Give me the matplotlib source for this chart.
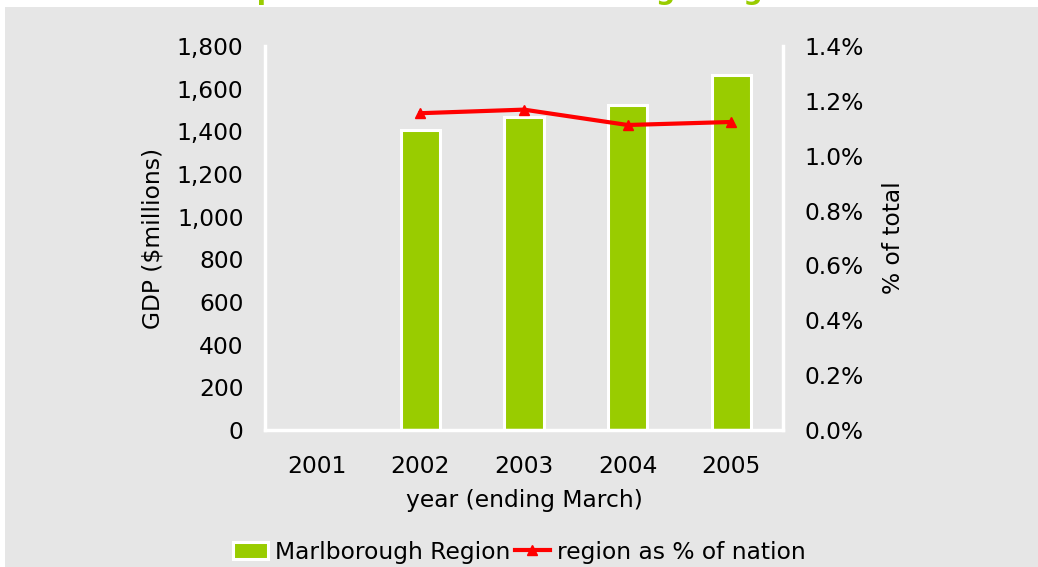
import matplotlib
matplotlib.use("Agg")
import matplotlib.pyplot as plt
from matplotlib.patches import Rectangle
from matplotlib.ticker import FuncFormatter, MultipleLocator

years = ["2001", "2002", "2003", "2004", "2005"]
gdp = [0, 1405, 1465, 1525, 1662]
pct = [None, 1.155, 1.168, 1.112, 1.123]

W, H = 1038, 567
FS = 16.8
fig = plt.figure(figsize=(W / 100, H / 100), dpi=100, facecolor="white")
bg = Rectangle((5 / W, 0), 1 - 5 / W, 1 - 7 / H, transform=fig.transFigure,
               facecolor="#e6e6e6", edgecolor="none", zorder=-10)
fig.patches.append(bg)

fig.text(810 / W, 1 + 1.0 / H, "Gross domestic product for the Marlborough Region",
         ha="right", va="baseline", fontsize=19.5, fontweight="bold", color="#99cc00")

ax = fig.add_axes([265 / W, 1 - 430 / H, (783 - 265) / W, (430 - 46) / H])
ax.set_facecolor("none")
x = list(range(len(years)))
bars = ax.bar(x, gdp, width=0.38, color="#99cc00", edgecolor="white", linewidth=2.2,
              label="Marlborough Region", zorder=2)
ax.set_xlim(-0.5, len(years) - 0.5)
ax.set_ylim(0, 1800)
ax.yaxis.set_major_locator(MultipleLocator(200))
ax.yaxis.set_major_formatter(FuncFormatter(lambda v, p: f"{int(v):,}"))
ax.set_xticks(x)
ax.set_xticklabels(years)
ax.tick_params(axis="both", length=0, labelsize=FS, colors="black")
ax.tick_params(axis="y", pad=15.5)
ax.tick_params(axis="x", pad=18)
for s in ["top", "right"]:
    ax.spines[s].set_visible(False)
for s in ["left", "bottom"]:
    ax.spines[s].set_color("white")
    ax.spines[s].set_linewidth(2.5)
ax.set_ylabel("GDP ($millions)", fontsize=FS, labelpad=9)
ax.set_xlabel("year (ending March)", fontsize=FS, labelpad=8)

ax2 = ax.twinx()
ax2.set_ylim(0, 1.4)
ax2.yaxis.set_major_locator(MultipleLocator(0.2))
ax2.yaxis.set_major_formatter(FuncFormatter(lambda v, p: f"{v:.1f}%"))
ax2.tick_params(axis="y", length=0, labelsize=FS, pad=15.5)
for s in ["top", "left", "bottom"]:
    ax2.spines[s].set_visible(False)
ax2.spines["right"].set_color("white")
ax2.spines["right"].set_linewidth(2.5)
px = [i for i, v in zip(x, pct) if v is not None]
py = [v for v in pct if v is not None]
ln, = ax2.plot(px, py, color="#ff0000", linewidth=3, marker="^", markersize=7,
               label="region as % of nation", zorder=3)
ax2.set_ylabel("% of total", fontsize=FS, labelpad=13)

leg = fig.legend([bars, ln], ["Marlborough Region", "region as % of nation"],
                 loc="center", bbox_to_anchor=(0.5, 1 - 552 / H), ncol=2, frameon=False,
                 fontsize=FS, handlelength=1.5, handletextpad=0.3, columnspacing=0.2)

fig.savefig("out.png", dpi=100, facecolor="white")
